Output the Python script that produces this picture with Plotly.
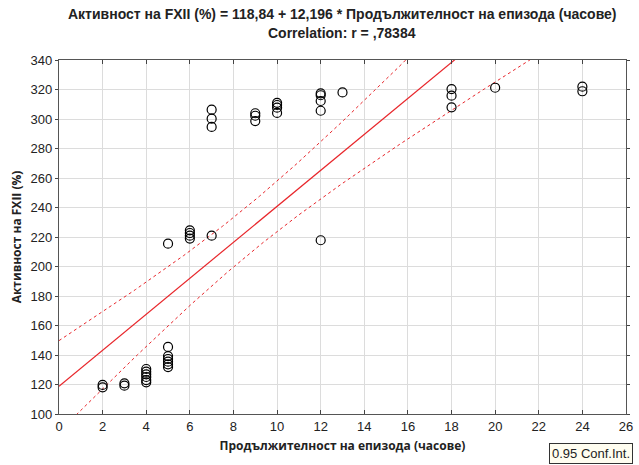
import numpy as np
import plotly.graph_objects as go

# Episode duration (hours) and FXII activity (%)
duration = [2, 2, 3, 3,
            4, 4, 4, 4, 4, 4,
            5, 5, 5, 5, 5, 5, 5,
            6, 6, 6, 6,
            7, 7, 7, 7,
            9, 9, 9,
            10, 10, 10, 10,
            12, 12, 12, 12, 12,
            13,
            18, 18, 18,
            20,
            24, 24]
activity = [119.7, 118.1, 120.8, 119.2,
            130.5, 128.7, 126.9, 125.1, 123.0, 121.5,
            145.5, 139.3, 137.3, 135.5, 133.7, 131.8, 215.5,
            224.5, 222.7, 220.9, 218.9,
            220.9, 306.3, 300.2, 294.6,
            303.9, 302.2, 298.6,
            311.0, 309.5, 307.7, 304.1,
            217.8, 317.4, 316.1, 312.2, 305.6,
            318.0,
            320.3, 315.8, 307.9,
            321.2,
            321.9, 318.8]

# Fitted equation shown in the title
intercept = 118.84
slope = 12.196
r_value = 0.78384

x = np.array(duration, dtype=float)
y = np.array(activity, dtype=float)
n = len(x)
xbar = x.mean()
sxx = ((x - xbar) ** 2).sum()
resid = y - (intercept + slope * x)
s = np.sqrt((resid ** 2).sum() / (n - 2))
t_crit = 2.018

# 95% confidence band for the regression line
xs = np.linspace(0, 26, 261)
fit = intercept + slope * xs
half = t_crit * s * np.sqrt(1.0 / n + (xs - xbar) ** 2 / sxx)

red = "#e8262b"
fig = go.Figure()
fig.add_trace(go.Scatter(x=xs, y=fit + half, mode="lines",
                         line=dict(color=red, width=1, dash="dot"), hoverinfo="skip"))
fig.add_trace(go.Scatter(x=xs, y=fit - half, mode="lines",
                         line=dict(color=red, width=1, dash="dot"), hoverinfo="skip"))
fig.add_trace(go.Scatter(x=xs, y=fit, mode="lines",
                         line=dict(color=red, width=1.2), hoverinfo="skip"))
fig.add_trace(go.Scatter(x=duration, y=activity, mode="markers",
                         marker=dict(symbol="circle-open", size=9, color="black",
                                     line=dict(width=1.2, color="black"))))

L, R, T, B = 59, 13, 60, 51
W, H = 639, 465
plot_w = W - L - R
plot_h = H - T - B


def px_to_paper(px, py):
    return (px - L) / plot_w, (H - B - py) / plot_h


title_font = dict(family="Liberation Sans Narrow, Arial Narrow, Liberation Sans", size=14, color="#222")
tx1, ty1 = px_to_paper(342, 14)
tx2, ty2 = px_to_paper(342, 33)
lx, ly = px_to_paper(633, 453)

fig.update_layout(
    width=W, height=H,
    margin=dict(l=L, r=R, t=T, b=B, autoexpand=False),
    paper_bgcolor="white", plot_bgcolor="white",
    showlegend=False,
    font=dict(family="Liberation Sans, Arial", size=13, color="#222"),
    annotations=[
        dict(text="<b>Активност на FXII (%) = 118,84 + 12,196 * Продължителност на епизода (часове)</b>",
             x=tx1, y=ty1, xref="paper", yref="paper", showarrow=False, font=title_font,
             yanchor="middle"),
        dict(text="<b>Correlation: r = ,78384</b>",
             x=tx2, y=ty2, xref="paper", yref="paper", showarrow=False, font=title_font,
             yanchor="middle"),
        dict(text="0.95 Conf.Int.", x=lx, y=ly, xref="paper", yref="paper",
             showarrow=False, xanchor="right", yanchor="middle",
             font=dict(family="Liberation Sans, Arial", size=13, color="#222"),
             bgcolor="#fffdf0", bordercolor="#333", borderwidth=1, borderpad=2),
    ],
    xaxis=dict(range=[0, 26], dtick=2, tick0=0, showgrid=True, gridcolor="#dcdcdc",
               automargin=False,
               zeroline=False, showline=True, linecolor="#555", linewidth=1.3, mirror="ticks",
               ticks="inside", ticklen=4, tickcolor="#444",
               title=dict(text="<b>Продължителност на епизода (часове)</b>",
                          font=dict(family="Open Sans, Liberation Sans", size=12, color="#222"),
                          standoff=8)),
    yaxis=dict(range=[100, 340], dtick=20, tick0=100, showgrid=True, gridcolor="#dcdcdc",
               automargin=False,
               zeroline=False, showline=True, linecolor="#555", linewidth=1.3, mirror="ticks",
               ticks="outside", ticklen=3, tickcolor="#444",
               title=dict(text="<b>Активност на FXII (%)</b>",
                          font=dict(family="Open Sans, Liberation Sans", size=12, color="#222"),
                          standoff=6)),
)

fig.write_html("out.html")
